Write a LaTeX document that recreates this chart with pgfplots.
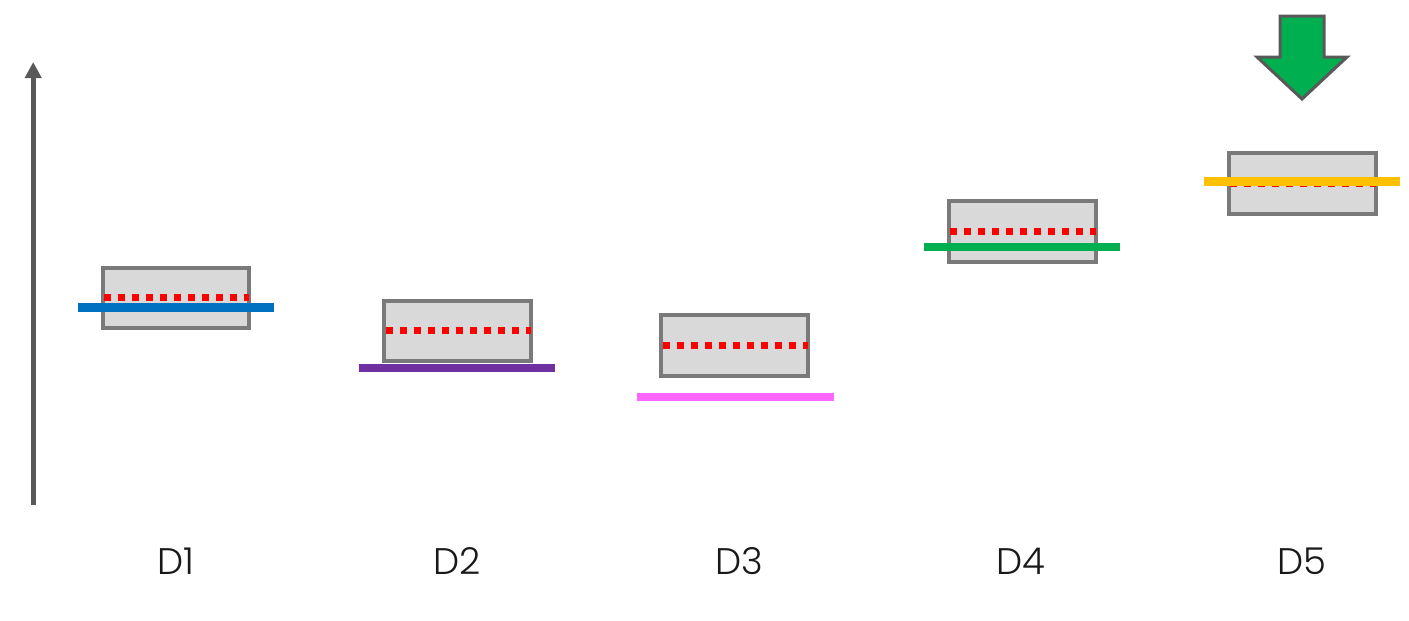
\documentclass[border=0pt]{standalone}
\usepackage{pgfplots}
\pgfplotsset{compat=1.18}
\usetikzlibrary{arrows.meta}
\usepackage{fontspec}
\IfFontExistsTF{Poppins Light}{\setmainfont{Poppins Light}}{\setmainfont{Poppins}}
\definecolor{axgray}{HTML}{595959}
\definecolor{boxgray}{HTML}{7A7A7A}
\definecolor{boxfill}{HTML}{D9D9D9}
\definecolor{cblue}{HTML}{0070C0}
\definecolor{cpurple}{HTML}{7030A0}
\definecolor{cpink}{HTML}{FF66FF}
\definecolor{cgreen}{HTML}{00B050}
\definecolor{cyellow}{HTML}{FFC000}
\tikzset{
  boxst/.style={draw=boxgray, fill=boxfill, line width=2pt, line join=miter},
  medst/.style={red, line width=3.5pt, dash pattern=on 3.5pt off 3.5pt},
  lvl/.style={line width=4.2pt},
  lab/.style={font=\fontsize{18.5}{20}\selectfont, text=black!90}}
\begin{document}
\begin{tikzpicture}
\begin{axis}[scale only axis, width=704.5pt, height=310.5pt,
  xmin=0.3748, xmax=5.380, ymin=-26.19, ymax=114.0,
  hide axis, clip=false]
% y axis arrow
\draw[axgray, line width=2.5pt, -{Triangle[length=8pt,width=8pt]}] (axis cs:0.4927,0) -- (axis cs:0.4927,100);
% D1
\addplot[boxst] coordinates {(0.739,39.95) (1.261,39.95) (1.261,53.5) (0.739,53.5)} -- cycle;
\addplot[medst] coordinates {(0.745,46.73) (1.261,46.73)};
\addplot[lvl, cblue] coordinates {(0.652,44.58) (1.348,44.58)};
% D2
\addplot[boxst] coordinates {(1.739,32.51) (2.261,32.51) (2.261,46.05) (1.739,46.05)} -- cycle;
\addplot[medst] coordinates {(1.745,39.28) (2.261,39.28)};
\addplot[lvl, cpurple] coordinates {(1.650,30.93) (2.346,30.93)};
% D3
\addplot[boxst] coordinates {(2.723,29.12) (3.245,29.12) (3.245,42.89) (2.723,42.89)} -- cycle;
\addplot[medst] coordinates {(2.729,36.0) (3.245,36.0)};
\addplot[lvl, cpink] coordinates {(2.638,24.38) (3.338,24.38)};
% D4
\addplot[boxst] coordinates {(3.745,54.85) (4.267,54.85) (4.267,68.62) (3.745,68.62)} -- cycle;
\addplot[medst] coordinates {(3.751,61.85) (4.267,61.85)};
\addplot[lvl, cgreen] coordinates {(3.657,58.24) (4.353,58.24)};
% D5
\addplot[boxst] coordinates {(4.739,65.69) (5.261,65.69) (5.261,79.46) (4.739,79.46)} -- cycle;
\addplot[medst] coordinates {(4.745,72.57) (5.261,72.57)};
\addplot[lvl, cyellow] coordinates {(4.652,73.02) (5.348,73.02)};
% green down arrow
\filldraw[fill=cgreen, draw=axgray, line width=1.5pt, line join=miter]
  (axis cs:4.9218,110.38) -- (axis cs:5.0782,110.38) -- (axis cs:5.0782,101.13)
  -- (axis cs:5.1599,101.13) -- (axis cs:5.0,91.65) -- (axis cs:4.8401,101.13)
  -- (axis cs:4.9218,101.13) -- cycle;
% labels
\node[lab] at (axis cs:1,-12.64) {D1};
\node[lab] at (axis cs:2,-12.64) {D2};
\node[lab] at (axis cs:3,-12.64) {D3};
\node[lab] at (axis cs:4,-12.64) {D4};
\node[lab] at (axis cs:5,-12.64) {D5};
\end{axis}
\pgfresetboundingbox
\path[use as bounding box] (current axis.south west) rectangle (current axis.north east);
\end{tikzpicture}
\end{document}
